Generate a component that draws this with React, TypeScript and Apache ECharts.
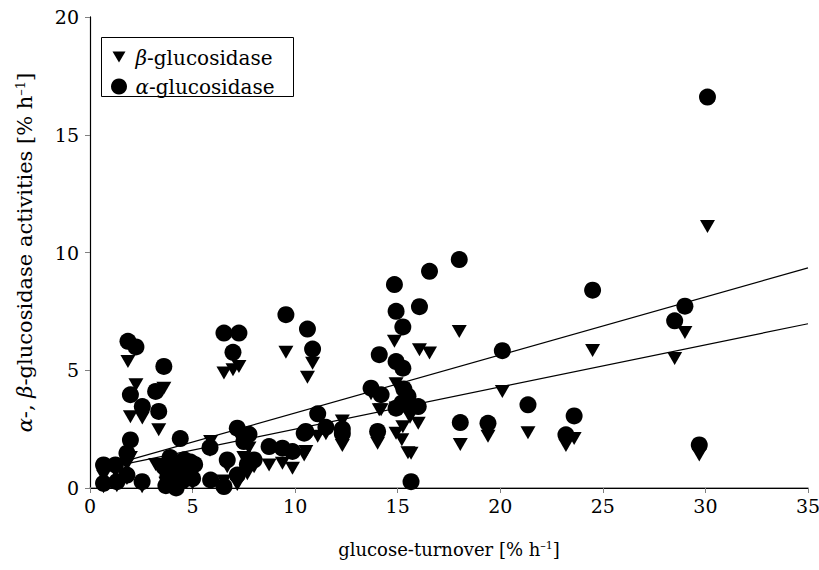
import React, { useEffect, useRef } from "react";
import * as echarts from "echarts";

// glucose-turnover [% h-1] for each sample (shared by both enzymes)
const turnover = [
  30.1, 29.7, 29.0, 28.5, 24.5, 23.6, 23.2, 21.35, 20.1, 19.4,
  18.0, 18.05, 16.55, 16.06, 16.0, 15.65, 15.25, 14.84, 14.92, 15.25,
  14.92, 14.1, 13.7, 14.19, 14.92, 15.2, 15.5, 15.3, 14.02, 15.6,
  12.3, 12.3, 11.5, 11.1, 10.85, 10.6, 10.52, 10.44, 9.55, 9.87,
  9.38, 8.73, 8.0, 7.26, 6.53, 6.97, 7.18, 7.75, 7.5, 6.69,
  7.18, 6.53, 5.88, 5.85, 7.67, 1.85, 2.24, 3.6, 1.97, 2.55,
  3.35, 3.2, 1.97, 4.4, 1.8, 0.66, 1.24, 0.66, 1.31, 1.8,
  2.54, 3.7, 4.0, 4.3, 4.6, 4.8, 5.0, 4.2, 3.9, 4.5,
  5.1, 3.6, 4.9, 3.8
];
// alpha-glucosidase activities [% h-1]
const alphaActivity = [
  16.6, 1.83, 7.72, 7.1, 8.4, 3.06, 2.26, 3.53, 5.83, 2.75,
  9.7, 2.78, 9.2, 7.7, 3.46, 0.27, 6.84, 8.64, 7.5, 5.09,
  5.37, 5.66, 4.24, 3.96, 3.39, 3.6, 3.9, 4.2, 2.4, 3.45,
  2.5, 2.3, 2.58, 3.15, 5.9, 6.75, 2.4, 2.33, 7.36, 1.55,
  1.69, 1.76, 1.19, 6.58, 6.58, 5.76, 2.54, 2.28, 1.97, 1.19,
  0.55, 0.06, 0.34, 1.72, 1.0, 6.23, 5.99, 5.16, 3.96, 3.46,
  3.25, 4.1, 2.04, 2.1, 1.48, 0.98, 0.98, 0.2, 0.27, 0.55,
  0.27, 0.1, 0.6, 1.0, 1.2, 0.8, 0.4, 0.0, 1.3, 0.3,
  1.0, 0.9, 1.1, 0.5
];
// beta-glucosidase activities [% h-1]
const betaActivity = [
  11.1, 1.4, 6.6, 5.5, 5.84, 2.1, 1.8, 2.35, 4.1, 2.2,
  6.65, 1.85, 5.73, 5.87, 2.75, 1.48, 4.2, 6.23, 4.43, 2.6,
  3.4, 3.32, 4.0, 3.32, 2.33, 2.05, 1.5, 4.0, 1.9, 3.0,
  2.85, 1.8, 2.3, 2.2, 5.3, 4.7, 1.55, 1.4, 5.76, 0.84,
  1.05, 0.98, 0.9, 5.16, 4.88, 5.02, 2.3, 1.7, 1.3, 0.9,
  0.15, 0.3, 1.97, 1.6, 0.6, 5.37, 4.38, 4.24, 3.03, 2.97,
  2.47, 1.0, 1.3, 1.1, 1.0, 0.5, 0.7, 0.05, 0.1, 0.4,
  0.05, 0.2, 0.3, 0.8, 1.0, 0.5, 0.2, 0.1, 1.1, 0.6,
  0.9, 0.7, 0.9, 0.3
];
// linear fits [intercept, slope]
const alphaFit = [0.72, 0.2465];
const betaFit = [0.71, 0.179];
const fitRange = [0.5, 35];
const xTicks = [0, 5, 10, 15, 20, 25, 30, 35];
const yTicks = [0, 5, 10, 15, 20];

const FONT = "DejaVu Serif";
const TRI = "path://M0,0L20,0L10,17Z";

export default function App() {
  const ref = useRef<HTMLDivElement>(null);
  useEffect(() => {
    document.body.style.margin = "0";
    const chart = echarts.init(ref.current!, null, { renderer: "svg" });
    const fitLine = (f: number[]) => fitRange.map((x) => [x, f[0] + f[1] * x]);
    const mkRich = (fs: number) => ({
      n: { fontFamily: FONT, fontSize: fs, color: "#000" },
      i: { fontFamily: FONT, fontSize: fs, fontStyle: "italic", color: "#000" },
      s: { fontFamily: FONT, fontSize: Math.round(fs * 0.62), color: "#000", verticalAlign: "top", lineHeight: Math.round(fs * 0.62) },
    });
    const baseAxis = {
      axisLine: { show: true, lineStyle: { color: "#000", width: 1 } },
      axisTick: { show: false },
      axisLabel: { show: false },
      splitLine: { show: false },
    };
    chart.setOption({
      animation: false,
      backgroundColor: "#fff",
      textStyle: { fontFamily: FONT },
      grid: { left: 90, right: 11, top: 17, bottom: 82, outerBoundsMode: "none" },
      xAxis: [
        {
          type: "value",
          min: 0,
          max: 35,
          interval: 5,
          axisLine: { show: true, lineStyle: { color: "#808080", width: 1.5 } },
          axisTick: { show: true, inside: false, length: 5, lineStyle: { color: "#808080" } },
          axisLabel: { fontFamily: FONT, fontSize: 19, color: "#000", margin: 8,
            formatter: (v: number) => (xTicks.includes(v) ? String(v) : "") },
          splitLine: { show: false },
          name: "{n|glucose-turnover [% h}{s|–1}{n|]}",
          nameLocation: "middle",
          nameGap: 52,
          nameTextStyle: { fontFamily: FONT, rich: mkRich(18) },
        },
        { type: "value", min: 0, max: 35, position: "top", ...baseAxis },
      ],
      yAxis: [
        {
          type: "value",
          min: 0,
          max: 20,
          interval: 5,
          axisLine: { show: true, lineStyle: { color: "#000", width: 1.2 } },
          axisTick: { show: true, inside: false, length: 5, lineStyle: { color: "#808080" } },
          axisLabel: { fontFamily: FONT, fontSize: 19, color: "#000", margin: 11,
            formatter: (v: number) => (yTicks.includes(v) ? String(v) : "") },
          splitLine: { show: false },
          name: "{i|α}{n|-, }{i|β}{n|-glucosidase activities [% h}{s|–1}{n|]}",
          nameLocation: "middle",
          nameGap: 55,
          nameTextStyle: { fontFamily: FONT, rich: mkRich(21) },
        },
        { type: "value", min: 0, max: 20, position: "right", ...baseAxis },
      ],
      series: [
        {
          type: "line",
          data: fitLine(alphaFit),
          showSymbol: false,
          symbol: "none",
          lineStyle: { color: "#000", width: 1.2 },
          z: 1,
          silent: true,
        },
        {
          type: "line",
          data: fitLine(betaFit),
          showSymbol: false,
          symbol: "none",
          lineStyle: { color: "#000", width: 1.2 },
          z: 1,
          silent: true,
        },
        {
          name: "β-glucosidase",
          type: "scatter",
          symbol: TRI,
          symbolSize: [15, 13],
          itemStyle: { color: "#000", opacity: 1 },
          data: turnover.map((x, i) => [x, betaActivity[i]]),
          z: 3,
        },
        {
          name: "α-glucosidase",
          type: "scatter",
          symbol: "circle",
          symbolSize: 17,
          itemStyle: { color: "#000", opacity: 1 },
          data: turnover.map((x, i) => [x, alphaActivity[i]]),
          z: 4,
        },
      ],
      graphic: [
        {
          type: "group",
          left: 101,
          top: 37,
          z: 100,
          children: [
            { type: "rect", shape: { x: 0, y: 0, width: 192, height: 59 },
              style: { fill: "#fff", stroke: "#000", lineWidth: 1 } },
            { type: "polygon", shape: { points: [[11, 14], [24, 14], [17.5, 25]] },
              style: { fill: "#000" } },
            { type: "circle", shape: { cx: 17.5, cy: 49, r: 8 }, style: { fill: "#000" } },
            { type: "text", x: 34, y: 20,
              style: { text: "{i|β}{n|-glucosidase}", rich: mkRich(20), fontFamily: FONT, verticalAlign: "middle" } },
            { type: "text", x: 34, y: 49,
              style: { text: "{i|α}{n|-glucosidase}", rich: mkRich(20), fontFamily: FONT, verticalAlign: "middle" } },
          ],
        },
      ],
    });
    return () => chart.dispose();
  }, []);
  return <div ref={ref} style={{ width: 819, height: 570 }} />;
}
